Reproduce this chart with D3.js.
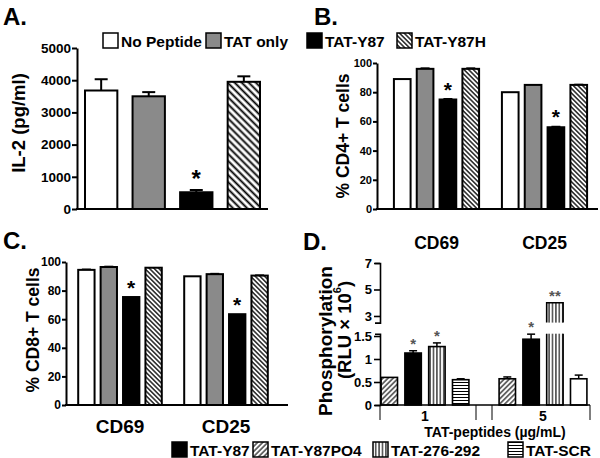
<!DOCTYPE html>
<html><head><meta charset="utf-8">
<script src="https://cdn.jsdelivr.net/npm/d3@7"></script>
<style>
body{margin:0;background:#fff}
svg{display:block}
text{font-family:"Liberation Sans",Arial,Helvetica,sans-serif;font-weight:bold;fill:#000}
</style>
</head><body>
<svg id="chart" width="600" height="458"></svg>
<script>
// ---------------- DATA ----------------
const groupsA = ["No Peptide", "TAT only", "TAT-Y87", "TAT-Y87H"];
const il2Values = [3680, 3500, 520, 3950];
const il2Errors = [350, 130, 70, 170];
const il2Sig = ["", "", "*", ""];
const yTicksA = [0, 1000, 2000, 3000, 4000, 5000];

const markers = ["CD69", "CD25"];
const cd4Values = [[89, 96, 75, 96], [80, 85, 56, 85]];
const cd4Errors = [[0, 0.5, 0.5, 0.5], [0, 0, 0.5, 0.3]];
const cd4Sig = [["", "", "*", ""], ["", "", "*", ""]];
const cd8Values = [[94.5, 96.5, 75.5, 96], [90, 91.5, 63.5, 90.5]];
const cd8Errors = [[0.4, 0.4, 0, 0], [0, 0.4, 0, 0.3]];
const cd8Sig = [["", "", "*", ""], ["", "", "*", ""]];
const yTicksPct = [0, 20, 40, 60, 80, 100];

const doses = ["1", "5"];
const groupsD = ["TAT-Y87PO4", "TAT-Y87", "TAT-276-292", "TAT-SCR"];
const phosValues = [[0.6, 1.13, 1.27, 0.55], [0.57, 1.43, 4.0, 0.57]];
const phosErrors = [[0, 0.05, 0.08, 0.02], [0.04, 0.11, 0, 0.08]];
const phosSig = [["", "*", "*", ""], ["", "*", "**", ""]];
const yTicksDLow = [0, 0.5, 1, 1.5];
const yTicksDHigh = [3, 5, 7];

const legendTop = ["No Peptide", "TAT only", "TAT-Y87", "TAT-Y87H"];
const legendBottom = ["TAT-Y87", "TAT-Y87PO4", "TAT-276-292", "TAT-SCR"];

// ---------------- STYLES ----------------
const svg = d3.select("#chart");
const defs = svg.append("defs");
function linePattern(id, size, angle, sw) {
  const p = defs.append("pattern").attr("id", id).attr("patternUnits", "userSpaceOnUse")
    .attr("width", size).attr("height", size)
    .attr("patternTransform", `rotate(${angle})`);
  p.append("rect").attr("width", size).attr("height", size).attr("fill", "#fff");
  p.append("line").attr("x1", size / 2).attr("x2", size / 2).attr("y1", 0).attr("y2", size)
    .attr("stroke", "#000").attr("stroke-width", sw);
}
linePattern("backWide", 5, -45, 1.9);
linePattern("backNarrow", 3.3, -45, 1.3);
linePattern("fwd", 3.6, 45, 1.1);
linePattern("vert", 3.4, 0, 1.1);
linePattern("horiz", 3.0, 90, 1.0);

const GRAY = "#8a8a8a";
const fillA = {"No Peptide": "#fff", "TAT only": GRAY, "TAT-Y87": "#000", "TAT-Y87H": "url(#backWide)"};
const fillBC = {"No Peptide": "#fff", "TAT only": GRAY, "TAT-Y87": "#000", "TAT-Y87H": "url(#backNarrow)"};
const fillD = {"TAT-Y87PO4": "url(#fwd)", "TAT-Y87": "#000", "TAT-276-292": "url(#vert)", "TAT-SCR": "url(#horiz)"};
const fillDOverride = {"5|TAT-SCR": "#fff"};
const fillLegendTop = {"No Peptide": "#fff", "TAT only": GRAY, "TAT-Y87": "#000", "TAT-Y87H": "url(#backNarrow)"};
const plainFmt = d => String(d);

function styleAxis(g, fs, sw) {
  g.select(".domain").attr("stroke", "#000").attr("stroke-width", sw);
  g.selectAll(".tick line").attr("stroke", "#000").attr("stroke-width", sw);
  g.selectAll(".tick text").attr("font-size", fs).attr("font-weight", "bold")
    .attr("font-family", '"Liberation Sans",Arial,sans-serif').attr("fill", "#000");
}
function hline(x1, x2, y, sw) {
  svg.append("line").attr("x1", x1).attr("x2", x2).attr("y1", y).attr("y2", y)
    .attr("stroke", "#000").attr("stroke-width", sw);
}
function vline(x, y1, y2, sw) {
  svg.append("line").attr("x1", x).attr("x2", x).attr("y1", y1).attr("y2", y2)
    .attr("stroke", "#000").attr("stroke-width", sw);
}
function rotLabel(x, y, txt, fs) {
  return svg.append("text").attr("transform", `translate(${x},${y}) rotate(-90)`)
    .attr("text-anchor", "middle").attr("dominant-baseline", "central")
    .attr("font-size", fs).text(txt);
}
function star(x, yTop, s, fs, bold, color) {
  svg.append("text").attr("x", x).attr("y", yTop + 0.52 * fs)
    .attr("text-anchor", "middle").attr("font-size", fs)
    .attr("font-weight", bold ? "bold" : "normal").style("fill", color).text(s);
}
function errBar(cx, y0, y1, cap, sw) {
  if (Math.abs(y0 - y1) < 0.3) return;
  vline(cx, y0, y1, sw);
  hline(cx - cap / 2, cx + cap / 2, y1, sw);
}

// panel letters
[["A.", 3, 25], ["B.", 314, 25], ["C.", 3, 249], ["D.", 303, 250]].forEach(([t, x, y]) =>
  svg.append("text").attr("x", x).attr("y", y).attr("font-size", 24).text(t));

// ---------------- PANEL A ----------------
{
  const y = d3.scaleLinear().domain([0, 5000]).range([209, 48]);
  const x = d3.scaleBand().domain(groupsA).range([85, 260]).paddingInner(0.32);
  groupsA.forEach((k, i) => {
    const v = il2Values[i], e = il2Errors[i], cx = x(k) + x.bandwidth() / 2;
    errBar(cx, y(v), y(v + e), 13, 2);
    svg.append("rect").attr("x", x(k)).attr("y", y(v)).attr("width", x.bandwidth())
      .attr("height", y(0) - y(v)).attr("fill", fillA[k]).attr("stroke", "#000").attr("stroke-width", 2);
    if (il2Sig[i]) star(cx, y(v + e) - 15, il2Sig[i], 24, true, "#000");
  });
  const ax = svg.append("g").attr("transform", "translate(77,0)")
    .call(d3.axisLeft(y).tickValues(yTicksA).tickFormat(plainFmt).tickSize(5).tickSizeOuter(0).tickPadding(1));
  styleAxis(ax, 13.5, 2);
  hline(76, 268, 209, 2);
  rotLabel(18, 123, "IL-2 (pg/ml)", 18.5);
}

// ---------------- PANELS B & C ----------------
function grouped(cfg) {
  const y = d3.scaleLinear().domain([0, 100]).range(cfg.yRange);
  const x0 = d3.scaleBand().domain(markers).range(cfg.xRange);
  const x1 = d3.scaleBand().domain(groupsA).range([0, x0.bandwidth()]).paddingInner(0.27).paddingOuter(0.5);
  markers.forEach((m, gi) => {
    groupsA.forEach((k, i) => {
      const v = cfg.values[gi][i], e = cfg.errors[gi][i];
      const bx = x0(m) + x1(k), cx = bx + x1.bandwidth() / 2;
      errBar(cx, y(v), y(v + e), 9, 1.5);
      svg.append("rect").attr("x", bx).attr("y", y(v)).attr("width", x1.bandwidth())
        .attr("height", y(0) - y(v)).attr("fill", fillBC[k]).attr("stroke", "#000").attr("stroke-width", 2);
      if (cfg.sig[gi][i]) star(cx, y(v + e) - 13, cfg.sig[gi][i], 21, true, "#000");
    });
    svg.append("text").attr("x", x0(m) + x0.bandwidth() / 2).attr("y", cfg.catY)
      .attr("text-anchor", "middle").attr("font-size", cfg.catFs).text(m);
  });
  const ax = svg.append("g").attr("transform", `translate(${cfg.axisX},0)`)
    .call(d3.axisLeft(y).tickValues(yTicksPct).tickFormat(plainFmt).tickSize(4).tickSizeOuter(0).tickPadding(1));
  styleAxis(ax, cfg.tickFs, 2);
  hline(cfg.axisX - 1, cfg.xEnd, cfg.yRange[0], 2);
  rotLabel(cfg.labX, cfg.labY, cfg.label, 17.5);
}
grouped({values: cd4Values, errors: cd4Errors, sig: cd4Sig, yRange: [209, 63], xRange: [382.5, 598.5],
  axisX: 377, xEnd: 598, catY: 249, catFs: 17.5, tickFs: 11, labX: 343, labY: 136, label: "% CD4+ T cells"});
grouped({values: cd8Values, errors: cd8Errors, sig: cd8Sig, yRange: [405, 262], xRange: [67, 279],
  axisX: 66, xEnd: 288, catY: 433, catFs: 19, tickFs: 12, labX: 33, labY: 330, label: "% CD8+ T cells"});

// ---------------- PANEL D ----------------
{
  const axisX = 380, xEnd = 590;
  const yLow = d3.scaleLinear().domain([0, 1.55]).range([405, 333.7]);
  const yHigh = d3.scaleLinear().domain([2.5, 7]).range([322.6, 263]);
  const lowMax = 1.55;
  const yv = v => v <= lowMax ? yLow(v) : yHigh(v);
  const x0 = d3.scaleBand().domain(doses).range([366, 602]);
  const x1 = d3.scaleBand().domain(groupsD).range([0, x0.bandwidth()]).paddingInner(0.31).paddingOuter(0.634);
  doses.forEach((d, gi) => {
    groupsD.forEach((k, i) => {
      const v = phosValues[gi][i], e = phosErrors[gi][i];
      const bx = x0(d) + x1(k), w = x1.bandwidth(), cx = bx + w / 2;
      const fill = fillDOverride[d + "|" + k] || fillD[k];
      if (v <= lowMax) {
        errBar(cx, yv(v), yv(v + e), 8, 1.5);
        svg.append("rect").attr("x", bx).attr("y", yv(v)).attr("width", w)
          .attr("height", yLow(0) - yv(v)).attr("fill", fill).attr("stroke", "#000").attr("stroke-width", 1.6);
      } else {
        svg.append("rect").attr("x", bx).attr("y", yLow(lowMax)).attr("width", w)
          .attr("height", yLow(0) - yLow(lowMax)).attr("fill", fill);
        svg.append("path").attr("d", `M${bx},${yLow(lowMax)}V${yLow(0)}H${bx + w}V${yLow(lowMax)}`)
          .attr("fill", "none").attr("stroke", "#000").attr("stroke-width", 1.6);
        svg.append("rect").attr("x", bx).attr("y", yHigh(v)).attr("width", w)
          .attr("height", yHigh(2.5) - yHigh(v)).attr("fill", fill);
        svg.append("path").attr("d", `M${bx},${yHigh(2.5)}V${yHigh(v)}H${bx + w}V${yHigh(2.5)}`)
          .attr("fill", "none").attr("stroke", "#000").attr("stroke-width", 1.6);
      }
      if (phosSig[gi][i]) star(cx, yv(v + e) - 10, phosSig[gi][i], 15, false, "#555");
    });
    svg.append("text").attr("x", x0(d) + x0.bandwidth() / 2).attr("y", 421)
      .attr("text-anchor", "middle").attr("font-size", 14).text(d);
  });
  const a1 = svg.append("g").attr("transform", `translate(${axisX},0)`)
    .call(d3.axisLeft(yLow).tickValues(yTicksDLow).tickFormat(plainFmt).tickSize(6).tickSizeOuter(5).tickPadding(2));
  styleAxis(a1, 13, 1.6);
  const a2 = svg.append("g").attr("transform", `translate(${axisX},0)`)
    .call(d3.axisLeft(yHigh).tickValues(yTicksDHigh).tickFormat(plainFmt).tickSize(6).tickSizeOuter(5).tickPadding(2));
  styleAxis(a2, 13, 1.6);
  hline(axisX, xEnd, 405, 1.6);
  const boundary = x0(doses[1]);
  [axisX, boundary - 8, boundary + 8, xEnd].forEach(xx => vline(xx, 405, 420, 1));
  svg.append("text").attr("x", 495).attr("y", 437).attr("text-anchor", "middle")
    .attr("font-size", 14).text("TAT-peptides (µg/mL)");
  rotLabel(325, 341, "Phosphorylation", 19);
  const t2 = svg.append("text").attr("transform", "translate(344,330) rotate(-90)")
    .attr("text-anchor", "middle").attr("dominant-baseline", "central").attr("font-size", 18.5);
  t2.append("tspan").text("(RLU × 10");
  t2.append("tspan").attr("font-size", 11).attr("dy", -7).text("6");
  t2.append("tspan").attr("dy", 7).text(")");
}

// ---------------- LEGENDS ----------------
function legend(items, fills, xs, yTop, fs) {
  items.forEach((k, i) => {
    svg.append("rect").attr("x", xs[i]).attr("y", yTop).attr("width", 15).attr("height", 15)
      .attr("fill", fills[k]).attr("stroke", "#000").attr("stroke-width", 1.5);
    svg.append("text").attr("x", xs[i] + 18).attr("y", yTop + 13.5).attr("font-size", fs).text(k);
  });
}
legend(legendTop, fillLegendTop, [103, 206, 307, 397], 33, 15.5);
legend(legendBottom, {"TAT-Y87": "#000", "TAT-Y87PO4": "url(#fwd)", "TAT-276-292": "url(#vert)", "TAT-SCR": "url(#horiz)"},
  [172, 253, 373, 508], 442, 15.5);
</script>
</body></html>
